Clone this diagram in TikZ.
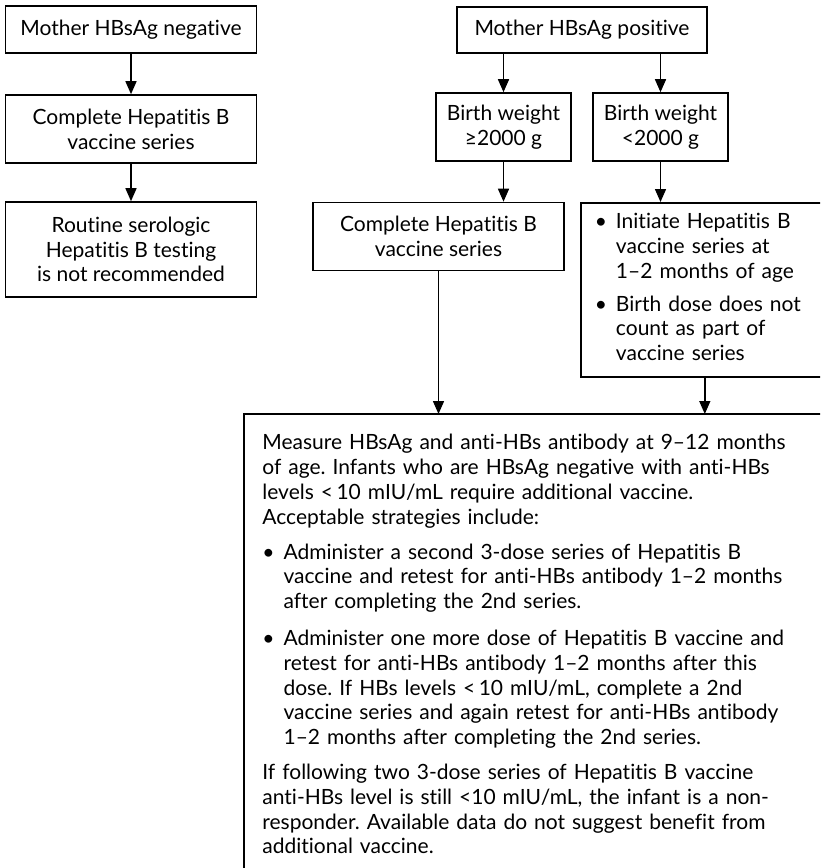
\documentclass[tikz,border=0pt]{standalone}
\usepackage{fontspec}
\setmainfont{Lato}[Ligatures={TeX,NoCommon}]
\usetikzlibrary{arrows.meta, positioning}

% bullet line with hanging text
\newcommand{\bul}[1]{\textbullet\hspace{4.5pt}\begin{tabular}[t]{@{}l@{}}#1\end{tabular}}

\begin{document}
\frenchspacing
\begin{tikzpicture}[x=0.5pt, y=-0.5pt, >={Triangle[length=6.5pt, width=5.5pt]},
    font=\fontsize{10.5}{12.4}\selectfont,
    box/.style={draw, line width=0.8pt, align=center, inner sep=2pt},
    wide/.style={box, minimum width=125.5pt, minimum height=34pt},
    flow/.style={->, line width=0.75pt}]
  \useasboundingbox (0,0) rectangle (820,868);
  \clip (0,0) rectangle (820,868);

  % --- Mother negative ---
  \node[box, minimum width=125.5pt, minimum height=23.5pt] (neg) at (131,29.5) {Mother HBsAg negative};
  \node[wide] (negvac) at (131,129) {Complete Hepatitis B\\vaccine series};
  \node[box, minimum width=125.5pt, minimum height=47.5pt] (negtest) at (131,249.5) {Routine serologic\\Hepatitis B testing\\is not recommended};
  \draw[flow] (neg) -- (negvac);
  \draw[flow] (negvac) -- (negtest);

  % --- Mother positive ---
  \node[box, minimum width=125pt, minimum height=23pt] (pos) at (582,30) {Mother HBsAg positive};
  \node[box, minimum width=67.5pt, minimum height=34pt] (heavy) at (503.5,127) {Birth weight\\≥2000 g};
  \node[box, minimum width=67.5pt, minimum height=34pt] (light) at (660.5,127) {Birth weight\\<2000 g};
  \draw[flow] (pos.south -| heavy) -- (heavy);
  \draw[flow] (pos.south -| light) -- (light);
  \node[wide] (posvac) at (438.5,236.5) {Complete Hepatitis B\\vaccine series};
  \draw[flow] (heavy) -- (heavy |- posvac.north);
  \node[box, anchor=north west, text width=110pt, inner xsep=7pt, minimum height=87pt, align=left] (lightvac) at (580,202)
    {\bul{Initiate Hepatitis B\\vaccine series at\\1--2 months of age}\\[3pt]
     \bul{Birth dose does not\\count as part of\\vaccine series}};
  \draw[flow] (light) -- (light |- lightvac.north);

  % --- Follow-up testing ---
  \node[anchor=north west, text width=279pt, inner xsep=9pt, inner ysep=10pt, align=left] (follow) at (244,414)
    {Measure HBsAg and anti-HBs antibody at 9--12 months\\
     of age. Infants who are HBsAg negative with anti-HBs\\
     levels~{<}\,10 mIU/mL require additional vaccine.\\
     Acceptable strategies include:\\[5pt]
     \bul{Administer a second 3-dose series of Hepatitis B\\
       vaccine and retest for anti-HBs antibody 1--2 months\\
       after completing the 2nd series.}\\[5pt]
     \bul{Administer one more dose of Hepatitis B vaccine and\\
       retest for anti-HBs antibody 1--2 months after this\\
       dose. If HBs levels~{<}\,10 mIU/mL, complete a 2nd\\
       vaccine series and again retest for anti-HBs antibody\\
       1--2 months after completing the 2nd series.}\\[5pt]
     If following two 3-dose series of Hepatitis B vaccine\\
     anti-HBs level is still <10 mIU/mL, the infant is a non-\\
     responder. Available data do not suggest benefit from\\
     additional vaccine.};
  \draw[line width=0.8pt] ([yshift=-30pt]follow.south west) |- (follow.north east);
  \draw[flow] (posvac) -- (posvac |- follow.north);
  \draw[flow] (lightvac) -- (lightvac |- follow.north);
\end{tikzpicture}
\end{document}
